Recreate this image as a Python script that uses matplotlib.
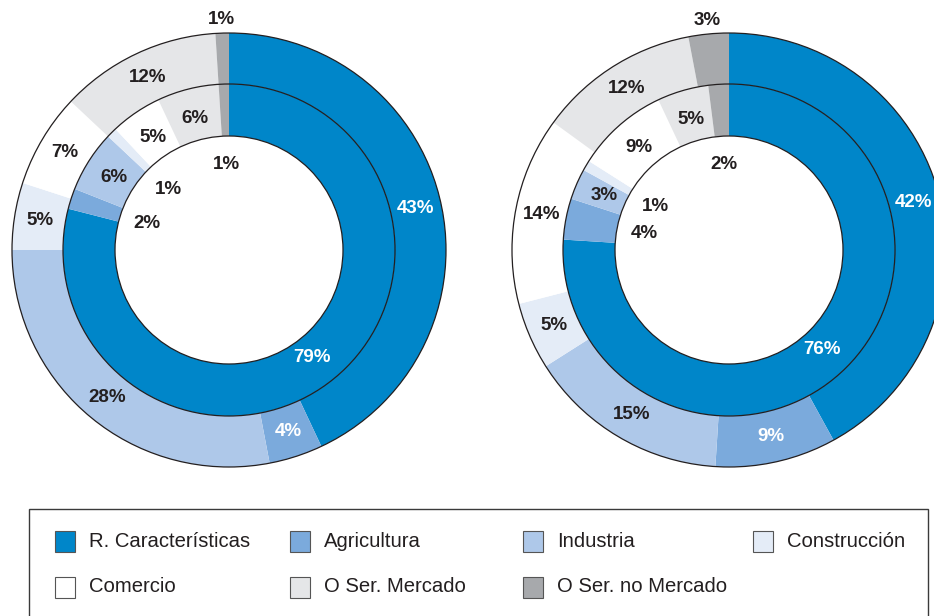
import matplotlib
matplotlib.use('Agg')
import matplotlib.pyplot as plt
from matplotlib.patches import Circle, Rectangle
import numpy as np

plt.rcParams['font.family'] = ['Liberation Sans', 'DejaVu Sans']

# ---------------- data ----------------
categories = ['R. Características', 'Agricultura', 'Industria', 'Construcción',
              'Comercio', 'O Ser. Mercado', 'O Ser. no Mercado']
left_outer = [43, 4, 28, 5, 7, 12, 1]
left_inner = [79, 2, 6, 1, 5, 6, 1]
right_outer = [42, 9, 15, 5, 14, 12, 3]
right_inner = [76, 4, 3, 1, 9, 5, 2]

colors = ['#0086C9', '#7BAADC', '#AEC8E9', '#E4ECF7', '#FFFFFF', '#E5E6E8', '#A7A9AC']
# label placement per category
outer_outside = [False, False, False, False, False, False, True]
inner_in_hole = [False, True, False, True, False, False, True]
white_label = [True, True, False, False, False, False, False]

DARK = '#231F20'

# ---------------- figure ----------------
W, H = 934, 616
fig = plt.figure(figsize=(W / 100, H / 100), dpi=100)
ax = fig.add_axes([0, 0, 1, 1])

R_OUT, R_MID, R_HOLE = 217, 166, 114


def donut(cx, cy, outer_vals, inner_vals):
    wo, _ = ax.pie(outer_vals, radius=R_OUT, center=(cx, cy), startangle=90,
                   counterclock=False, colors=colors,
                   wedgeprops=dict(width=R_OUT - R_MID, edgecolor='none', linewidth=0))
    wi, _ = ax.pie(inner_vals, radius=R_MID, center=(cx, cy), startangle=90,
                   counterclock=False, colors=colors,
                   wedgeprops=dict(width=R_MID - R_HOLE, edgecolor='none', linewidth=0))
    for r in (R_OUT, R_MID, R_HOLE):
        ax.add_patch(Circle((cx, cy), r, fill=False, edgecolor=DARK, linewidth=0.9, zorder=3))
    # outer labels
    for i, (w, v) in enumerate(zip(wo, outer_vals)):
        th = np.deg2rad((w.theta1 + w.theta2) / 2)
        if outer_outside[i]:
            r, c = 231, DARK
        else:
            r = 191
            c = 'white' if white_label[i] else DARK
        ax.text(cx + r * np.cos(th), cy + r * np.sin(th), f'{v}%', ha='center', va='center',
                fontsize=13.5, fontweight='bold', color=c, zorder=4)
    # inner labels
    for i, (w, v) in enumerate(zip(wi, inner_vals)):
        th = np.deg2rad((w.theta1 + w.theta2) / 2)
        if inner_in_hole[i]:
            r, c = 86, DARK
        else:
            r = 136
            c = 'white' if white_label[i] else DARK
        ax.text(cx + r * np.cos(th), cy + r * np.sin(th), f'{v}%', ha='center', va='center',
                fontsize=13.5, fontweight='bold', color=c, zorder=4)


donut(229, H - 250, left_outer, left_inner)
donut(729, H - 250, right_outer, right_inner)

# ---------------- legend ----------------
ax.add_patch(Rectangle((29, -20), 928 - 29, (H - 509) + 20, fill=False,
                       edgecolor='#3A3A3A', linewidth=1.0, zorder=2))
legend_order = [0, 1, 2, 3, 4, 5, 6]
col_x = [55, 290, 523, 753]
row_y = [H - 541.5, H - 587]
for k, idx in enumerate(legend_order):
    row, col = divmod(k, 4)
    x0, yc = col_x[col], row_y[row]
    ax.add_patch(Rectangle((x0, yc - 10.5), 20, 21, facecolor=colors[idx],
                           edgecolor='#555555', linewidth=0.8, zorder=3))
    ax.text(x0 + 34, yc, categories[idx], ha='left', va='center', fontsize=14.6,
            color=DARK, zorder=3)

ax.set_xlim(0, W)
ax.set_ylim(0, H)
ax.set_aspect('equal')
ax.axis('off')

fig.savefig('out.png', dpi=100)
